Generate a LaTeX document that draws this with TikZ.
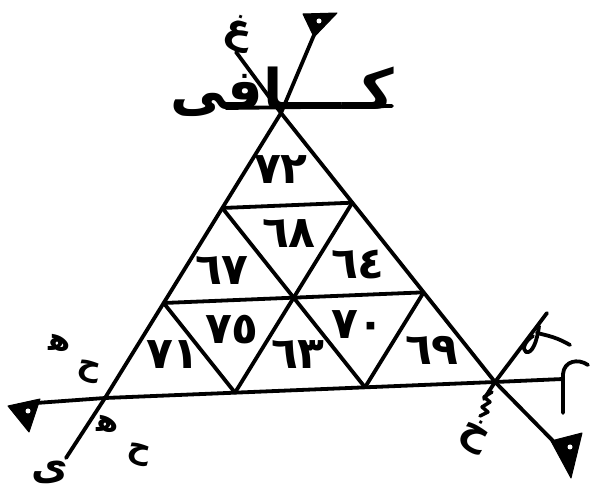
\documentclass[tikz,border=0pt]{standalone}
\usepackage{fontspec}
\usetikzlibrary{calc}
\TeXXeTstate=1
\newfontfamily\arabicfont[Script=Arabic]{DejaVu Sans}
\begin{document}
\begin{tikzpicture}[x=1pt,y=-1pt,
  ink/.style={line width=3.8pt,line cap=round,line join=round},
  num/.style={font=\arabicfont\bfseries\fontsize{44}{46}\selectfont,inner sep=0pt},
  lbl/.style={font=\arabicfont\bfseries\fontsize{40}{42}\selectfont,inner sep=0pt},
  small/.style={font=\arabicfont\bfseries\fontsize{32}{34}\selectfont,inner sep=0pt},
  arrowhead/.style={fill=black,draw=black,line width=1pt,line join=round}]
\useasboundingbox (0,0) rectangle (590,497);
% main vertices
\coordinate (A) at (281,113);
\coordinate (B) at (105,398);
\coordinate (C) at (495,382);
% subdivision points
\coordinate (ab1) at ($(A)!1/3!(B)$);
\coordinate (ab2) at ($(A)!2/3!(B)$);
\coordinate (ac1) at ($(A)!1/3!(C)$);
\coordinate (ac2) at ($(A)!2/3!(C)$);
\coordinate (bc1) at ($(B)!1/3!(C)$);
\coordinate (bc2) at ($(B)!2/3!(C)$);
% line ends
\coordinate (TL) at (236,52);
\coordinate (TR) at (314,35);
\coordinate (BL) at (66,458);
\coordinate (BR) at (556,444);
\coordinate (LA) at (36,403);
\coordinate (RE) at (563,379);
\coordinate (RU) at (547,313);
\coordinate (RD) at (484,399);
% outer lines
\draw[ink] (BL) -- (B) -- (A) -- (TR);
\draw[ink] (TL) -- (A) -- (C) -- (BR);
\draw[ink] (LA) -- (B) -- (C) -- (RE);
\draw[ink] (RD) -- (C) -- (RU);
% inner grid
\draw[ink] (ab1) -- (ac1);
\draw[ink] (ab2) -- (ac2);
\draw[ink] (ab1) -- (bc2);
\draw[ink] (ac1) -- (bc1);
\draw[ink] (ab2) -- (bc1);
\draw[ink] (ac2) -- (bc2);
% top bar (base of the kaf)
\coordinate (KL) at (226,108);
\coordinate (KR) at (392,106);
\draw[ink] (KL) -- (KR);
% arrowheads
\draw[arrowhead] (303,14) -- (337,13) -- (314,37) -- cycle;
\fill[white] (319,21) circle (2.5pt);
\draw[arrowhead] (8,406) -- (40,399) -- (29,432) -- cycle;
\fill[white] (28,411) circle (2.5pt);
\draw[arrowhead] (551,441) -- (582,433) -- (571,478) -- cycle;
\fill[white] (570,447) circle (2.5pt);
% right end hook
\draw[ink] (563,413) -- (563,374) .. controls (564,361) and (578,358) .. (588,365);
% loop on upper right stroke
\draw[ink] (539,326) .. controls (537,342) and (532,354) .. (526,352) .. controls (521,349) and (526,340) .. (533,336);
\draw[ink] (537,333) .. controls (550,336) and (558,338) .. (570,345);
% teeth on lower right stroke
\draw[line width=3.5pt,line join=round,line cap=round] (492,392) -- (484,397) -- (490,402) -- (482,407) -- (488,412) -- (480,416);
% numbers
\node[num] (n72) at (281,170) {٧٢};
\node[num] (n68) at (289,234) {٦٨};
\node[num] (n67) at (222,271) {٦٧};
\node[num] (n64) at (358,265) {٦٤};
\node[num] (n71) at (173,355) {٧١};
\node[num] (n75) at (232,330) {٧٥};
\node[num] (n63) at (298,355) {٦٣};
\node[num] (n70) at (358,325) {٧٠};
\node[num] (n69) at (432,350) {٦٩};
% words
\node[font=\arabicfont\bfseries\fontsize{56}{60}\selectfont,inner sep=0pt,anchor=base east] (kafi) at (394,110) {\beginR كــــافى\endR};
\node[lbl,rotate=-20] (gh) at (238,34) {غ};
\node[small] (h1) at (60,343) {ﻫ};
\node[small,rotate=-15] (c1) at (88,372) {ح};
\node[small] (h2) at (108,424) {ﻫ};
\node[small,rotate=-15] (c2) at (138,455) {ح};
\node[lbl] (ya) at (50,472) {ى};
\node[lbl,rotate=-30] (kh) at (474,436) {خ};
\end{tikzpicture}
\end{document}
